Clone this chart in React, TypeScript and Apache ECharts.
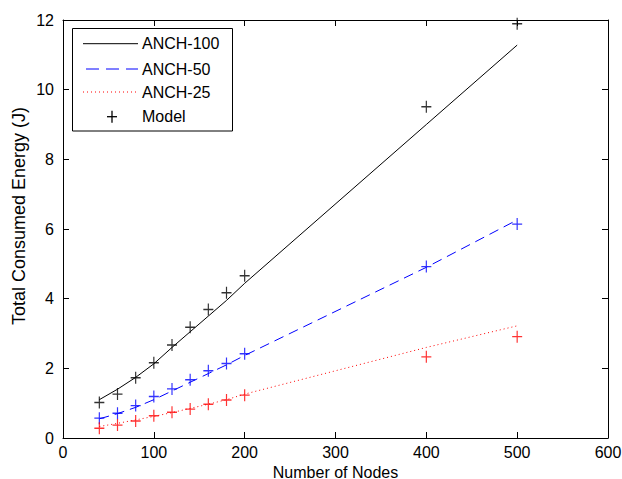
import React, { useEffect, useRef } from "react";
import * as echarts from "echarts";

const nodes = [40, 60, 80, 100, 120, 140, 160, 180, 200, 400, 500];
const anch100 = [1.1, 1.4, 1.74, 2.13, 2.6, 3.05, 3.5, 3.95, 4.44, 9.0, 11.28];
const anch50 = [0.55, 0.7, 0.88, 1.1, 1.35, 1.6, 1.85, 2.1, 2.37, 4.9, 6.26];
const anch25 = [0.33, 0.42, 0.52, 0.62, 0.73, 0.85, 0.97, 1.1, 1.26, 2.6, 3.22];
const model100 = [1.02, 1.26, 1.73, 2.16, 2.67, 3.18, 3.69, 4.17, 4.66, 9.51, 11.89];
const model50 = [0.57, 0.71, 0.93, 1.19, 1.41, 1.67, 1.93, 2.14, 2.42, 4.92, 6.14];
const model25 = [0.28, 0.37, 0.49, 0.64, 0.74, 0.83, 0.97, 1.09, 1.23, 2.33, 2.91];

const xTicks = { min: 0, max: 600, interval: 100 };
const yTicks = { min: 0, max: 12, interval: 2 };

const legendNames = ["ANCH-100", "ANCH-50", "ANCH-25", "Model"];

const FONT = "'Liberation Sans', Arial, Helvetica, sans-serif";
const BLUE = "#0000ff";
const RED = "#ff0000";

const pair = (ys: number[]) => nodes.map((x, i) => [x, ys[i]]);
const PLUS = "path://M5,0V10M0,5H10";

export default function App() {
  const ref = useRef<HTMLDivElement>(null);
  useEffect(() => {
    if (!ref.current) return;
    const chart = echarts.init(ref.current, null, { renderer: "svg" });
    const axisCommon = {
      type: "value" as const,
      axisLine: { show: true, onZero: false, lineStyle: { color: "#000", width: 1 } },
      axisTick: { show: true, inside: true, length: 6, lineStyle: { color: "#000" } },
      splitLine: { show: false },
    };
    const labelStyle = { color: "#000", fontSize: 16, fontFamily: FONT };
    const scatter = (data: number[][], color: string) => ({
      type: "scatter",
      data,
      symbol: PLUS,
      symbolSize: [10, 12],
      itemStyle: { color: "transparent", borderColor: color, borderWidth: 1.3 },
      z: 5,
    });
    const line = (data: number[][], color: string, type: any) => ({
      type: "line",
      data,
      symbol: "none",
      lineStyle: { color, width: 1, type },
      z: 3,
    });
    const legendRows = [43.7, 69, 92, 116.7];
    const legendGraphics: any[] = [
      {
        type: "rect",
        shape: { x: 72.5, y: 28.5, width: 160, height: 102.5 },
        style: { fill: "#fff", stroke: "#000", lineWidth: 1 },
        z: 100,
      },
      {
        type: "line",
        shape: { x1: 83, y1: legendRows[0], x2: 138, y2: legendRows[0] },
        style: { stroke: "#000", lineWidth: 1 },
        z: 101,
      },
      {
        type: "line",
        shape: { x1: 86, y1: legendRows[1], x2: 138, y2: legendRows[1] },
        style: { stroke: BLUE, lineWidth: 1, lineDash: [13, 7] },
        z: 101,
      },
      {
        type: "line",
        shape: { x1: 83, y1: legendRows[2], x2: 138, y2: legendRows[2] },
        style: { stroke: RED, lineWidth: 1, lineDash: [1, 3] },
        z: 101,
      },
      {
        type: "line",
        shape: { x1: 107, y1: legendRows[3], x2: 117, y2: legendRows[3] },
        style: { stroke: "#000", lineWidth: 1.3 },
        z: 101,
      },
      {
        type: "line",
        shape: { x1: 112, y1: legendRows[3] - 6, x2: 112, y2: legendRows[3] + 6 },
        style: { stroke: "#000", lineWidth: 1.3 },
        z: 101,
      },
      ...legendNames.map((t, i) => ({
        type: "text",
        x: 142,
        y: legendRows[i],
        style: {
          text: t,
          fill: "#000",
          font: `16px ${FONT}`,
          textAlign: "left",
          textVerticalAlign: "middle",
        },
        z: 101,
      })),
      {
        type: "text",
        x: 19,
        y: 216,
        rotation: Math.PI / 2,
        style: {
          text: "Total Consumed Energy (J)",
          fill: "#000",
          font: `18px ${FONT}`,
          textAlign: "center",
          textVerticalAlign: "middle",
        },
      },
    ];
    chart.setOption({
      animation: false,
      backgroundColor: "#fff",
      grid: { left: 63, right: 14, top: 20, bottom: 41, containLabel: false, outerBoundsMode: "none" },
      xAxis: [
        {
          ...axisCommon,
          ...xTicks,
          position: "bottom",
          axisLabel: { ...labelStyle, margin: 6 },
          name: "Number of Nodes",
          nameLocation: "middle",
          nameGap: 21,
          nameTextStyle: { color: "#000", fontSize: 16, lineHeight: 16, fontFamily: FONT },
        },
        {
          ...axisCommon,
          ...xTicks,
          position: "top",
          axisLabel: { show: false },
        },
      ],
      yAxis: [
        {
          ...axisCommon,
          ...yTicks,
          position: "left",
          axisLabel: { ...labelStyle, margin: 9 },
        },
        {
          ...axisCommon,
          ...yTicks,
          position: "right",
          axisLabel: { show: false },
        },
      ],
      series: [
        line(pair(anch100), "#000", "solid"),
        line(pair(anch50), BLUE, [10, 6]),
        line(pair(anch25), RED, [1, 3]),
        scatter(pair(model100), "#000"),
        scatter(pair(model50), BLUE),
        scatter(pair(model25), RED),
      ],
      graphic: legendGraphics,
    });
    return () => chart.dispose();
  }, []);
  return <div ref={ref} style={{ width: 622, height: 479, position: "absolute", left: 0, top: 0 }} />;
}
